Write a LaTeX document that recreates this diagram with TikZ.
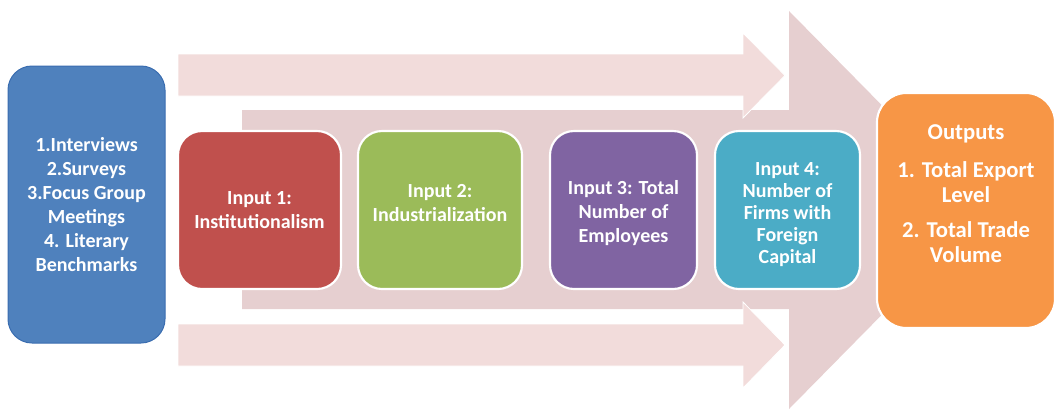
\documentclass[tikz,border=0pt]{standalone}
\usepackage{fontspec}
\setmainfont{Carlito}
\definecolor{bigarrow}{HTML}{E6CFD0}
\definecolor{smallarrow}{HTML}{F2DCDB}
\definecolor{cblue}{HTML}{4F81BD}
\definecolor{cbluedark}{HTML}{3A6DB0}
\definecolor{cred}{HTML}{C0504D}
\definecolor{cgreen}{HTML}{9BBB59}
\definecolor{cpurple}{HTML}{8064A2}
\definecolor{cteal}{HTML}{4BACC6}
\definecolor{corange}{HTML}{F79646}
\newcommand{\shiftlines}[2]{\raisebox{#1}[\height][\depth]{\begin{tabular}{@{}c@{}}#2\end{tabular}}}
\tikzset{
  box/.style={rounded corners=18pt, draw=white, line width=1.6pt, inner sep=0pt,
    text=white, align=center, font=\bfseries\fontsize{15}{18}\selectfont},
  bigarrowstyle/.style={fill=bigarrow, draw=none},
  smallarrowstyle/.style={fill=smallarrow, draw=white, line width=0.6pt},
  outtext/.style={text=white, align=center, inner sep=0pt}
}
\begin{document}
\begin{tikzpicture}[x=0.75pt,y=-0.75pt]
\useasboundingbox (0,0) rectangle (1060,418);
% big background arrow
\path[bigarrowstyle] (242,110) -- (789,110) -- (789,11) -- (985,210) -- (789,409) -- (789,309) -- (242,309) -- cycle;
% small arrows
\path[smallarrowstyle] (178,54) -- (743,54) -- (743,33) -- (785,75.5) -- (743,118) -- (743,96) -- (178,96) -- cycle;
\path[smallarrowstyle] (178,324) -- (743,324) -- (743,302) -- (785,345) -- (743,388) -- (743,366) -- (178,366) -- cycle;
% boxes
\node[box, draw=cbluedark, line width=0.75pt, fill=cblue, minimum width=117.75pt, minimum height=207.75pt] (src) at (86.5,204.5)
  {1.Interviews\\2.Surveys\\3.Focus Group\\Meetings\\4. Literary\\Benchmarks};
\node[box, fill=cred, minimum width=122.25pt, minimum height=118.5pt] (in1) at (259.5,210)
  {Input 1:\\Institutionalism};
\node[box, fill=cgreen, minimum width=123pt, minimum height=118.5pt] (in2) at (440,210)
  {\shiftlines{4pt}{Input 2:\\Industrialization}};
\node[box, fill=cpurple, minimum width=110.25pt, minimum height=118.5pt] (in3) at (623.5,210)
  {\shiftlines{-3pt}{Input 3: Total\\Number of\\Employees}};
\node[box, fill=cteal, minimum width=108.75pt, minimum height=118.5pt, font=\bfseries\fontsize{15}{16.5}\selectfont] (in4) at (787.5,210)
  {\shiftlines{-3.75pt}{Input 4:\\Number of\\Firms with\\Foreign\\Capital}};
\node[box, fill=corange, rounded corners=22pt, minimum width=133.5pt, minimum height=176.25pt] (out) at (966,210.5) {};
\node[outtext, font=\bfseries\fontsize{17}{19}\selectfont] (outhead) at (966,134) {Outputs};
\node[outtext, font=\bfseries\fontsize{17}{18.75}\selectfont] (out1) at (966,182) {1. Total Export\\Level};
\node[outtext, font=\bfseries\fontsize{17}{18.75}\selectfont] (out2) at (966,242.5) {2. Total Trade\\Volume};
\end{tikzpicture}
\end{document}
